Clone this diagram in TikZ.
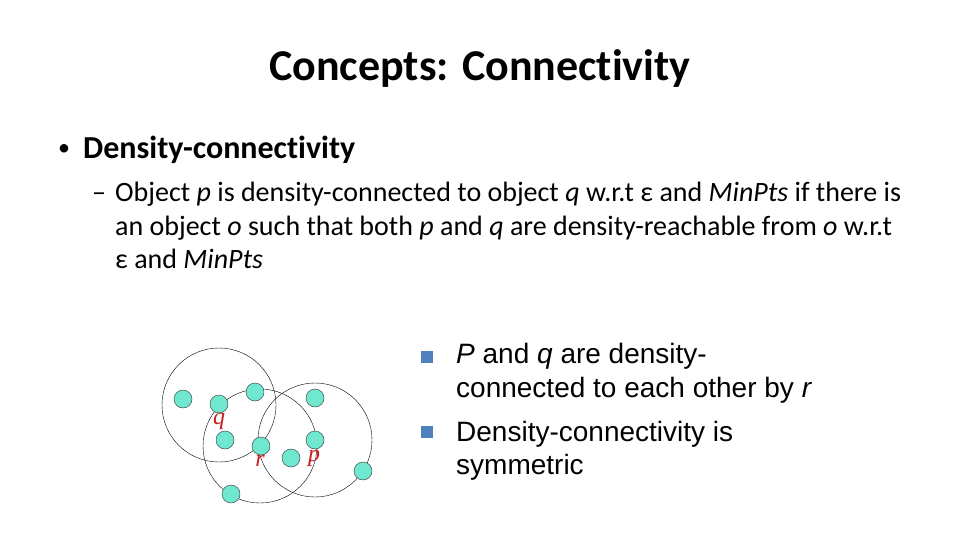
\documentclass[tikz,border=0pt]{standalone}
\usepackage{fontspec}
\setmainfont[Ligatures=NoCommon,Contextuals=NoAlternate]{Carlito}
\newfontfamily\arialfont{Liberation Sans}
\newfontfamily\timesfont{Liberation Serif}
\usepackage{tikz}
\definecolor{ptcol}{RGB}{112,232,208}
\definecolor{lblred}{RGB}{200,30,30}
\definecolor{sqblue}{RGB}{79,129,189}

\begin{document}
\begin{tikzpicture}[x=1pt,y=-1pt,
  txt/.style={anchor=base west,inner sep=0pt},
  pt/.style={circle,draw=black!80,fill=ptcol,minimum size=18pt,inner sep=0pt},
  nb/.style={circle,draw,minimum size=114pt,inner sep=0pt},
  lbl/.style={text=lblred,inner sep=0pt,font=\timesfont\itshape\fontsize{24}{24}\selectfont},
  sq/.style={rectangle,fill=sqblue,minimum size=12pt,inner sep=0pt}]
\useasboundingbox (0,0) rectangle (960,540);
\node [anchor=base,inner sep=0pt,font=\bfseries\fontsize{44}{53}\selectfont] (title) at (480,81) {Concepts: Connectivity};
% level 1
\node [txt,font=\fontsize{24}{30}\selectfont] (b1) at (58,156) {\textbullet};
\node [txt,font=\bfseries\fontsize{32}{38}\selectfont] (h1) at (83,159) {Density-connectivity};
% level 2
\node [txt,font=\fontsize{28}{34}\selectfont] (d1) at (92,201) {–};
\node [txt,font=\fontsize{28}{34}\selectfont] (l1) at (115,201) {Object \textit{p} is density-connected to object \textit{q} w.r.t ε and \textit{MinPts} if there is};
\node [txt,font=\fontsize{28}{34}\selectfont] (l2) at (115,235) {an object \textit{o} such that both \textit{p} and \textit{q} are density-reachable from \textit{o} w.r.t};
\node [txt,font=\fontsize{28}{34}\selectfont] (l3) at (115,268) {ε and \textit{MinPts}};
% neighbourhoods
\node [nb] (nq) at (219,405) {};
\node [nb] (nr) at (260,446) {};
\node [nb] (np) at (315,440) {};
% objects
\node [pt] (a) at (183,399) {};
\node [pt] (q) at (219,404) {};
\node [pt] (b) at (255,392) {};
\node [pt] (c) at (315,398) {};
\node [pt] (d) at (225,440) {};
\node [pt] (r) at (261,446) {};
\node [pt] (p) at (315,440) {};
\node [pt] (e) at (291,458) {};
\node [pt] (f) at (363,471) {};
\node [pt] (g) at (231,494) {};
\node [lbl] (ql) at (219,421) {q};
\node [lbl] (rl) at (260,461) {r};
\node [lbl] (pl) at (314,458) {p};
% right bullets
\node [sq] (s1) at (427,357) {};
\node [sq] (s2) at (427,432) {};
\node [txt,font=\arialfont\fontsize{28}{34}\selectfont] (t1) at (456,363) {\textit{P} and \textit{q} are density-};
\node [txt,font=\arialfont\fontsize{28}{34}\selectfont] (t2) at (456,397) {connected to each other by \textit{r}};
\node [txt,font=\arialfont\fontsize{28}{34}\selectfont] (t3) at (456,441) {Density-connectivity is};
\node [txt,font=\arialfont\fontsize{28}{34}\selectfont] (t4) at (456,474) {symmetric};
\end{tikzpicture}
\end{document}
